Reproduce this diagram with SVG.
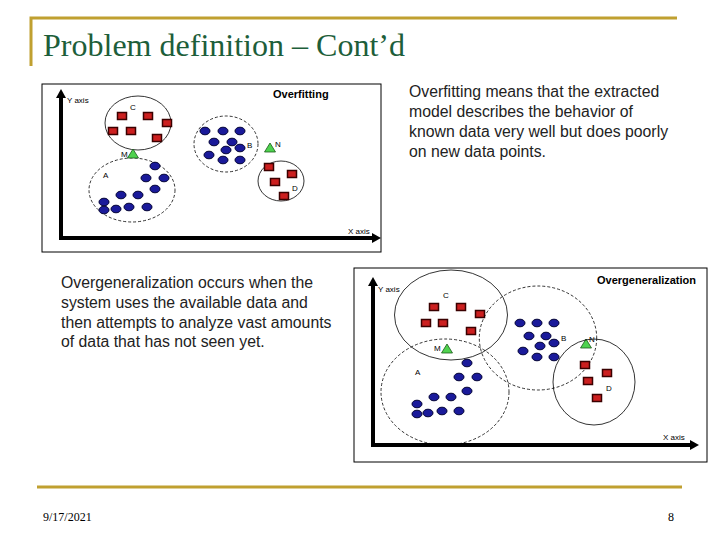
<svg xmlns="http://www.w3.org/2000/svg" width="720" height="540" viewBox="0 0 720 540">
<defs>
<style>
.title{font-family:"Liberation Serif","Times New Roman",serif;font-size:32px;fill:#1d5e3a}
.foot{font-family:"Liberation Serif","Times New Roman",serif;font-size:12px;fill:#000}
.body{font-family:"Liberation Sans",Arial,sans-serif;font-size:15.8px;fill:#222}
.lbl{font-family:"Liberation Sans",Arial,sans-serif;font-size:8px;fill:#000}
.hdr{font-family:"Liberation Sans",Arial,sans-serif;font-size:11px;font-weight:bold;fill:#000}
.panel{fill:#fff;stroke:#000;stroke-width:1}
.axis{stroke:#000;stroke-width:4;fill:none}
.solid{fill:none;stroke:#000;stroke-width:0.8}
.dash{fill:none;stroke:#000;stroke-width:0.8;stroke-dasharray:3,2}
.sq{fill:#cc1f1f;stroke:#3a0000;stroke-width:1.5}
.dot{fill:#1a1a9a;stroke:#000033;stroke-width:1}
.tri{fill:#4fd24f;stroke:#1a5a1a;stroke-width:0.8}
.gold{stroke:#c0a030;stroke-width:3;fill:none}
</style>
<symbol id="s" overflow="visible"><rect class="sq" x="-4.5" y="-3.5" width="9" height="7"/></symbol>
<symbol id="d" overflow="visible"><ellipse class="dot" cx="0" cy="0" rx="5" ry="3.8"/></symbol>
<symbol id="t" overflow="visible"><polygon class="tri" points="0,-5 5.5,4 -5.5,4"/></symbol>
</defs>
<rect width="720" height="540" fill="#fff"/>

<g id="header">
<polyline class="gold" points="31,66 31,18 677,18"/>
<text class="title" x="43" y="56" textLength="362" lengthAdjust="spacingAndGlyphs">Problem definition – Cont’d</text>
</g>

<g id="footer">
<line class="gold" x1="37" y1="487" x2="682" y2="487"/>
<text class="foot" x="43" y="521">9/17/2021</text>
<text class="foot" x="668" y="521">8</text>
</g>

<g id="text-overfitting">
<text class="body" x="409" y="97">Overfitting means that the extracted</text>
<text class="body" x="409" y="117">model describes the behavior of</text>
<text class="body" x="409" y="137">known data very well but does poorly</text>
<text class="body" x="409" y="157">on new data points.</text>
</g>

<g id="text-overgeneralization">
<text class="body" x="61" y="288">Overgeneralization occurs when the</text>
<text class="body" x="61" y="308">system uses the available data and</text>
<text class="body" x="61" y="328">then attempts to analyze vast amounts</text>
<text class="body" x="61" y="347">of data that has not seen yet.</text>
</g>

<g id="panel-overfitting">
<rect class="panel" x="42" y="84" width="339" height="168"/>
<polyline class="axis" points="61,96 61,238 374,238"/>
<polygon points="61,89 56,98 66,98" fill="#000"/>
<polygon points="381,238 372,233 372,243" fill="#000"/>
<text class="lbl" x="67" y="103">Y axis</text>
<text class="lbl" x="348" y="234">X axis</text>
<text class="hdr" x="273" y="98">Overfitting</text>

<g id="p1-C">
<ellipse class="solid" cx="138" cy="123" rx="33" ry="27"/>
<text class="lbl" x="130" y="110">C</text>
<use href="#s" x="122" y="116"/><use href="#s" x="148" y="116"/><use href="#s" x="167" y="123"/>
<use href="#s" x="113" y="131"/><use href="#s" x="131" y="131"/><use href="#s" x="157" y="138"/>
</g>
<g id="p1-A">
<ellipse class="dash" cx="132" cy="190" rx="43" ry="32"/>
<text class="lbl" x="103" y="178">A</text>
<use href="#d" x="155" y="166"/><use href="#d" x="146" y="178"/><use href="#d" x="164" y="178"/>
<use href="#d" x="155" y="189"/><use href="#d" x="121" y="195"/><use href="#d" x="138" y="195"/>
<use href="#d" x="104" y="202"/><use href="#d" x="104" y="210"/><use href="#d" x="116" y="209"/>
<use href="#d" x="129" y="207"/><use href="#d" x="147" y="207"/>
</g>
<g id="p1-M">
<use href="#t" x="133" y="154"/>
<text class="lbl" x="121" y="157">M</text>
</g>
<g id="p1-B">
<ellipse class="dash" cx="226" cy="144" rx="32" ry="28"/>
<text class="lbl" x="247" y="148">B</text>
<use href="#d" x="205" y="131"/><use href="#d" x="223" y="131"/><use href="#d" x="240" y="131"/>
<use href="#d" x="214" y="142"/><use href="#d" x="232" y="142"/><use href="#d" x="240" y="148"/>
<use href="#d" x="226" y="150"/><use href="#d" x="209" y="155"/><use href="#d" x="223" y="160"/>
<use href="#d" x="240" y="160"/>
</g>
<g id="p1-N">
<use href="#t" x="270" y="148"/>
<text class="lbl" x="275" y="147">N</text>
</g>
<g id="p1-D">
<ellipse class="solid" cx="281" cy="181" rx="23" ry="20"/>
<text class="lbl" x="292" y="191">D</text>
<use href="#s" x="269" y="167"/><use href="#s" x="292" y="174"/><use href="#s" x="275" y="182"/><use href="#s" x="284" y="196"/>
</g>
</g>

<g id="panel-overgeneralization">
<rect class="panel" x="354" y="268" width="353" height="194"/>
<polyline class="axis" points="373,284 373,445 690,445"/>
<polygon points="373,277 368,286 378,286" fill="#000"/>
<polygon points="699,445 690,440 690,450" fill="#000"/>
<text class="lbl" x="378" y="292">Y axis</text>
<text class="lbl" x="663" y="440">X axis</text>
<text class="hdr" x="597" y="284">Overgeneralization</text>

<g id="p2-C">
<ellipse class="solid" cx="451" cy="315" rx="56.5" ry="45"/>
<text class="lbl" x="443" y="298">C</text>
<use href="#s" x="434" y="307"/><use href="#s" x="461" y="307"/><use href="#s" x="480" y="314"/>
<use href="#s" x="426" y="323"/><use href="#s" x="443" y="323"/><use href="#s" x="471" y="331"/>
</g>
<g id="p2-A">
<ellipse class="dash" cx="445" cy="392" rx="64" ry="53"/>
<text class="lbl" x="415" y="375">A</text>
<use href="#d" x="467" y="363"/><use href="#d" x="459" y="377"/><use href="#d" x="477" y="377"/>
<use href="#d" x="467" y="391"/><use href="#d" x="434" y="397"/><use href="#d" x="451" y="397"/>
<use href="#d" x="417" y="404"/><use href="#d" x="417" y="414"/><use href="#d" x="428" y="413"/>
<use href="#d" x="442" y="411"/><use href="#d" x="459" y="411"/>
</g>
<g id="p2-M">
<use href="#t" x="447" y="349"/>
<text class="lbl" x="434" y="351">M</text>
</g>
<g id="p2-B">
<ellipse class="dash" cx="538" cy="338" rx="58.7" ry="52"/>
<text class="lbl" x="561" y="341">B</text>
<use href="#d" x="520" y="323"/><use href="#d" x="537" y="323"/><use href="#d" x="554" y="323"/>
<use href="#d" x="529" y="336"/><use href="#d" x="546" y="336"/><use href="#d" x="554" y="343"/>
<use href="#d" x="540" y="346"/><use href="#d" x="523" y="351"/><use href="#d" x="537" y="357"/>
<use href="#d" x="554" y="357"/>
</g>
<g id="p2-N">
<use href="#t" x="586" y="344"/>
<text class="lbl" x="589" y="342">N</text>
</g>
<g id="p2-D">
<ellipse class="solid" cx="594" cy="382" rx="41" ry="43"/>
<text class="lbl" x="606" y="391">D</text>
<use href="#s" x="585" y="365"/><use href="#s" x="607" y="373"/><use href="#s" x="588" y="381"/><use href="#s" x="597" y="398"/>
</g>
</g>
</svg>
